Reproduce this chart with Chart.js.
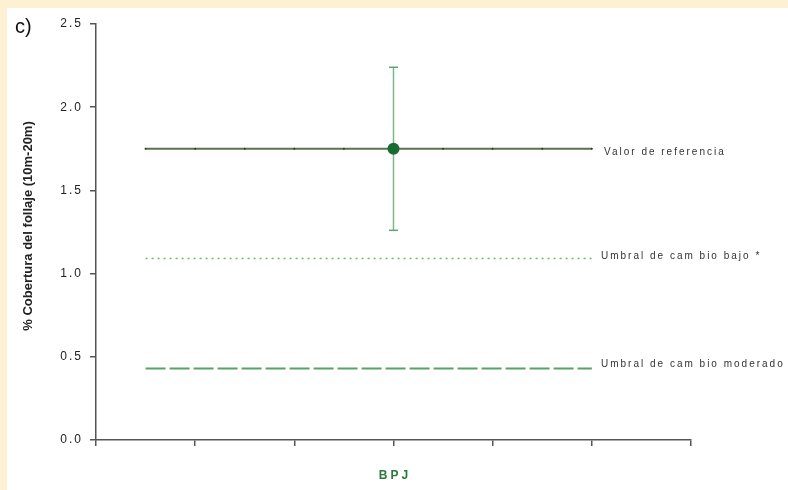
<!DOCTYPE html>
<html>
<head>
<meta charset="utf-8">
<script src="https://cdn.jsdelivr.net/npm/chart.js@4.4.1/dist/chart.umd.min.js"></script>
<style>
  html, body { margin: 0; padding: 0; background: #fdf0d3; width: 788px; height: 490px; overflow: hidden; }
  #wrap { position: absolute; left: 7px; top: 8px; width: 781px; height: 482px; background: #fff; }
</style>
</head>
<body>
<div id="wrap"><canvas id="chart" width="781" height="482"></canvas></div>
<script>
// values
let categories = ["BPJ"];
let categoryPos = [3];
let meanValues = [1.75];
let errLow = [1.26];
let errHigh = [2.24];
let refValue = 1.75;
let lowThreshold = 1.09;
let modThreshold = 0.43;
let lineLabels = ["Valor de referencia", "Umbral de cam bio bajo *", "Umbral de cam bio moderado"];
let lineStarts = [0.5, 1, 1.5, 2, 2.5, 3, 3.5, 4, 4.5, 5];
let yTicks = [0, 0.5, 1.0, 1.5, 2.0, 2.5];

let flatLine = (v) => lineStarts.map((x) => ({ x: x, y: v }));

let labelPlugin = {
  id: "labels",
  beforeDraw: (chart) => {
    chart.ctx.letterSpacing = "2px";
  },
  afterDraw: (chart) => {
    let ctx = chart.ctx;
    let y = chart.scales.y;
    let x = chart.scales.x;
    let area = chart.chartArea;
    ctx.save();

    // right-hand line labels
    ctx.letterSpacing = "2px";
    ctx.font = "10px 'Liberation Sans', Arial, sans-serif";
    ctx.fillStyle = "#333";
    ctx.textAlign = "left";
    ctx.textBaseline = "middle";
    ctx.fillText(lineLabels[0], 597, y.getPixelForValue(refValue) + 3);
    ctx.fillText(lineLabels[1], 594, y.getPixelForValue(lowThreshold) - 2);
    ctx.fillText(lineLabels[2], 594, y.getPixelForValue(modThreshold) - 4);

    // category label
    ctx.letterSpacing = "3px";
    ctx.font = "bold 12px 'Liberation Sans', Arial, sans-serif";
    ctx.fillStyle = "#2b7a3d";
    ctx.textAlign = "center";
    ctx.fillText(categories[0], x.getPixelForValue(categoryPos[0]) + 1.5, 468);

    // y title
    ctx.letterSpacing = "0px";
    ctx.font = "bold 13px 'Liberation Sans', Arial, sans-serif";
    ctx.fillStyle = "#222";
    ctx.translate(21, (area.top + area.bottom) / 2 - 6);
    ctx.rotate(-Math.PI / 2);
    ctx.fillText("% Cobertura del follaje (10m-20m)", 0, 0);
    ctx.restore();

    // panel letter
    ctx.save();
    ctx.letterSpacing = "0px";
    ctx.font = "20px 'Liberation Sans', Arial, sans-serif";
    ctx.fillStyle = "#111";
    ctx.textAlign = "left";
    ctx.textBaseline = "alphabetic";
    ctx.fillText("c)", 8, 25);
    ctx.restore();
  },
};

new Chart(document.getElementById("chart"), {
  type: "line",
  data: {
    datasets: [
      {
        data: flatLine(refValue),
        order: 3,
        borderColor: "#5b7252",
        borderWidth: 2,
        pointRadius: 1,
        pointBackgroundColor: "#2f3a2a",
        pointBorderWidth: 0,
      },
      {
        data: flatLine(lowThreshold),
        order: 4,
        borderColor: "#74bb58",
        borderWidth: 1.5,
        borderDash: [2, 4],
        pointRadius: 0,
      },
      {
        data: flatLine(modThreshold),
        order: 5,
        borderColor: "#58a268",
        borderWidth: 2,
        borderDash: [20, 4],
        pointRadius: 0,
      },
      {
        data: categoryPos.map((p, i) => ({ x: p, y: errLow[i] })).concat(
          categoryPos.map((p, i) => ({ x: p, y: errHigh[i] }))
        ),
        order: 2,
        borderColor: "#78b88b",
        borderWidth: 1.5,
        pointStyle: "line",
        pointRadius: 4.5,
        pointBorderColor: "#5ea474",
        pointBorderWidth: 1.5,
      },
      {
        data: categoryPos.map((p, i) => ({ x: p, y: meanValues[i] })),
        order: 1,
        showLine: false,
        pointRadius: 6,
        pointBackgroundColor: "#186c31",
        pointBorderColor: "#186c31",
        pointBorderWidth: 0,
      },
    ],
  },
  options: {
    responsive: false,
    animation: false,
    events: [],
    layout: { padding: { top: 16, right: 97, left: 0, bottom: 0 } },
    plugins: { legend: { display: false }, tooltip: { enabled: false } },
    scales: {
      x: {
        type: "linear",
        min: 0,
        max: 6,
        ticks: { stepSize: 1, callback: () => "" },
        grid: { drawOnChartArea: false, drawTicks: true, tickLength: 6, color: "#555", lineWidth: 1.5 },
        border: { color: "#555", width: 1.5 },
        afterFit: (scale) => { scale.height = 50; },
      },
      y: {
        min: 0,
        max: 2.5,
        afterBuildTicks: (scale) => { scale.ticks = yTicks.map((v) => ({ value: v })); },
        ticks: {
          callback: (v) => Number(v).toFixed(1),
          color: "#222",
          font: { family: "'Liberation Sans', Arial, sans-serif", size: 12 },
          padding: 7,
        },
        grid: { drawOnChartArea: false, drawTicks: true, tickLength: 6, color: "#555", lineWidth: 1.5 },
        border: { color: "#555", width: 1.5 },
        afterFit: (scale) => { scale.width = 89; },
      },
    },
  },
  plugins: [labelPlugin],
});
</script>
</body>
</html>
